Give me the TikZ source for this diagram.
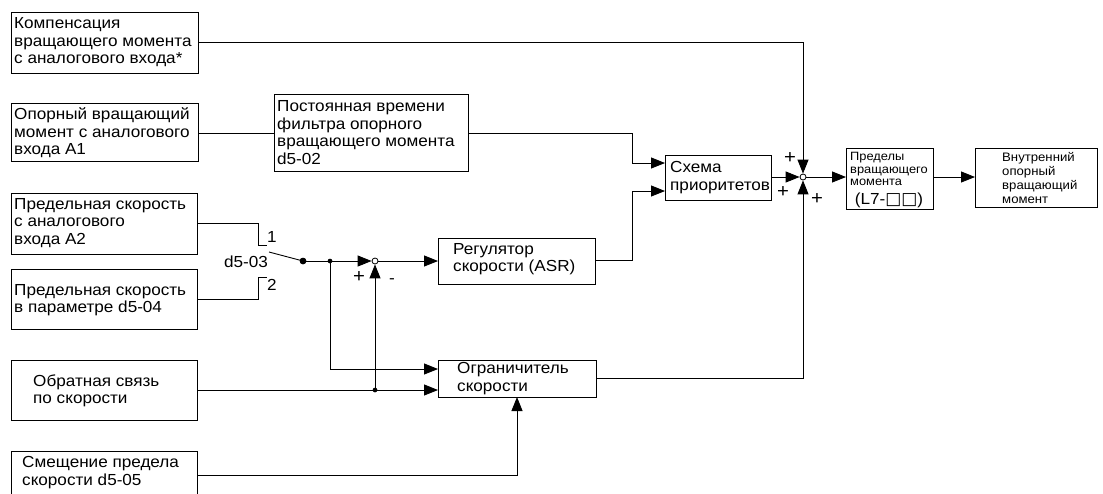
\documentclass[tikz,border=0pt]{standalone}
\usepackage{fontspec}
\setmainfont{Liberation Sans}[FakeStretch=1.07]
\newfontfamily\sqfont{DejaVu Sans}
\usetikzlibrary{arrows.meta,calc}
\tikzset{
  blk/.style={draw, line width=1pt, inner sep=0pt, outer sep=0pt, anchor=north west},
  txt/.style={inner sep=0pt, anchor=west, align=left, font=\fontsize{16}{17.5}\selectfont},
  stxt/.style={inner sep=0pt, anchor=west, align=left, font=\fontsize{12}{12.5}\selectfont},
  lbl/.style={inner sep=0pt, font=\fontsize{16}{17.5}\selectfont},
  pm/.style={inner sep=0pt, font=\fontsize{19}{20}\selectfont},
  wire/.style={line width=0.9pt},
  arr/.style={wire, -{Triangle[length=14pt,width=11pt]}},
  sum/.style={circle, draw, line width=0.8pt, fill=white, inner sep=0pt, minimum size=6pt},
  bigdot/.style={circle, fill, inner sep=0pt, minimum size=6.5pt},
  smalldot/.style={circle, fill, inner sep=0pt, minimum size=4.5pt}
}
\begin{document}
\begin{tikzpicture}[x=1pt,y=-1pt]
\useasboundingbox (0,0) rectangle (1103,493);
% boxes
\node[blk, minimum width=187pt, minimum height=61pt] (comp) at (11,12) {};
\node[blk, minimum width=187pt, minimum height=58pt] (opor) at (11,103) {};
\node[blk, minimum width=194pt, minimum height=77pt] (filt) at (274,94) {};
\node[blk, minimum width=186pt, minimum height=61pt] (aa) at (11,193) {};
\node[blk, minimum width=186pt, minimum height=60pt] (pd) at (11,269) {};
\node[blk, minimum width=186pt, minimum height=60pt] (fb) at (11,360) {};
\node[blk, minimum width=186pt, minimum height=60pt] (sm) at (11,451) {};
\node[blk, minimum width=157pt, minimum height=46pt] (asr) at (438,238) {};
\node[blk, minimum width=106pt, minimum height=45pt] (pri) at (665,155) {};
\node[blk, minimum width=158pt, minimum height=37pt] (lim) at (438,360) {};
\node[blk, minimum width=87pt, minimum height=61pt] (lt) at (846,148) {};
\node[blk, minimum width=122pt, minimum height=59pt] (ref) at (975,148) {};
% texts
\node[txt] (tcomp) at (14,42.5) {Компенсация\\вращающего момента\\с аналогового входа*};
\node[txt] (topor) at (14,133) {Опорный вращающий\\момент с аналогового\\входа A1};
\node[txt] (tfilt) at (277,132.5) {Постоянная времени\\фильтра опорного\\вращающего момента\\d5-02};
\node[txt] (taa) at (14,223) {Предельная скорость\\с аналогового\\входа A2};
\node[txt] (tpd) at (14,300) {Предельная скорость\\в параметре d5-04};
\node[txt] (tfb) at (33,391) {Обратная связь\\по скорости};
\node[txt] (tsm) at (22,472.5) {Смещение предела\\скорости d5-05};
\node[txt] (tasr) at (453,259) {Регулятор\\скорости (ASR)};
\node[txt] (tpri) at (670,177.5) {Схема\\приоритетов};
\node[txt] (tlim) at (457,378.5) {Ограничитель\\скорости};
\node[stxt] (tlt) at (850,169) {Пределы\\вращающего\\момента};
\node[lbl] (tlt2) at (889,200) {(L7-{\sqfont\fontsize{17}{17}\selectfont □□})};
\node[stxt, font=\fontsize{12.3}{14}\selectfont] (tref) at (1002,178) {Внутренний\\опорный\\вращающий\\момент};
% junctions
\node[sum] (s1) at (803,177) {};
\node[sum] (s2) at (375,261) {};
\node[bigdot] (sw) at (303,261) {};
\node[smalldot] (br) at (330,261) {};
\node[smalldot] (fbd) at (375,390) {};
\coordinate (c1) at (267,245);
\coordinate (c2) at (267,277);
\coordinate (sws) at (269,252);
% labels
\node[lbl] (l1) at (272,237) {1};
\node[lbl] (l2) at (272,285) {2};
\node[lbl] (ld) at (246,262) {d5-03};
\node[pm] (lp1) at (359,277) {+};
\node[lbl] (lm1) at (392,281) {-};
\node[pm] (lp2) at (790,158) {+};
\node[pm] (lp3) at (783,192) {+};
\node[pm] (lp4) at (817,199) {+};
% wires
\draw[arr] (comp.east |- 0,42) -| (s1.north);
\draw[wire] (opor.east |- 0,133) -- (filt.west |- 0,133);
\draw[arr] (filt.east |- 0,133) -- (632,133) |- (pri.west |- 0,163);
\draw[arr] (asr.east |- 0,260) -- (632,260) |- (pri.west |- 0,191);
\draw[arr] (pri.east |- s1) -- (s1.west);
\draw[arr] (s1.east) -- (lt.west |- s1);
\draw[arr] (lt.east |- s1) -- (ref.west |- s1);
\draw[arr] (lim.east |- 0,378) -| (s1.south);
\draw[wire] (aa.east |- 0,223) -- (258,223) |- (c1);
\draw[wire] (pd.east |- 0,299) -- (258,299) |- (c2);
\draw[wire] (sws) -- (sw.center);
\draw[arr] (sw.center) -- (s2.west);
\draw[arr] (s2.east) -- (asr.west |- s2);
\draw[arr] (br.center) |- (lim.west |- 0,369);
\draw[arr] (fb.east |- 0,390) -- (lim.west |- 0,390);
\draw[arr] (fbd.center) -- (s2.south);
\draw[arr] (sm.east |- 0,475) -| (lim.south -| 517,0);
\node[smalldot] at (fbd) {};
\node[smalldot] at (br) {};
\node[bigdot] at (sw) {};
\end{tikzpicture}
\end{document}
